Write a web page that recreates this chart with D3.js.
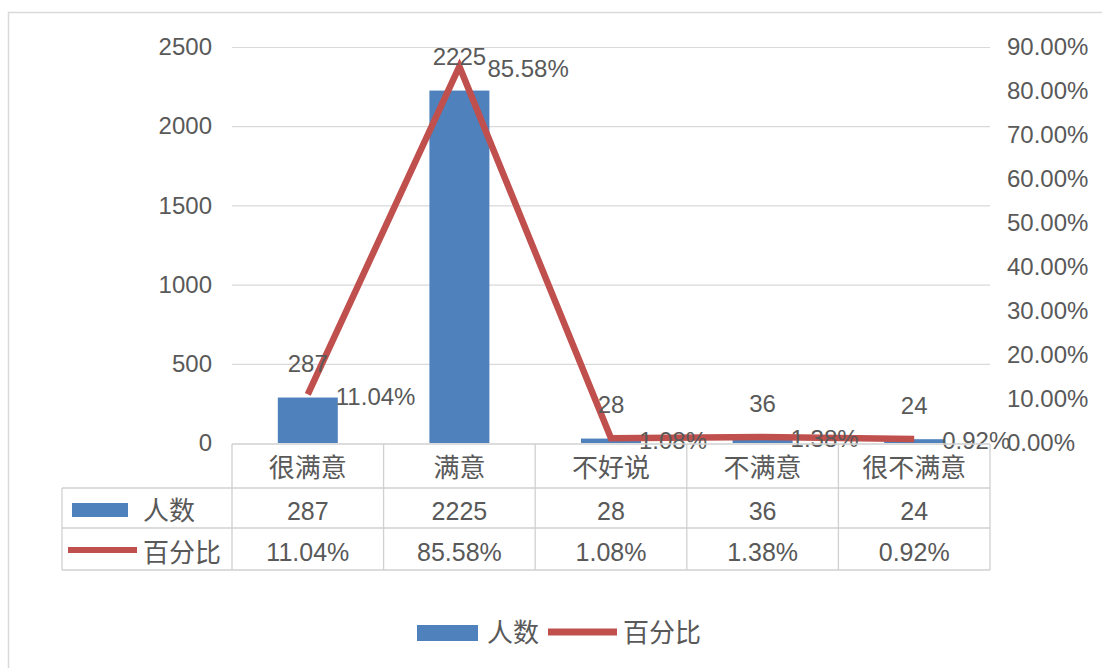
<!DOCTYPE html>
<html><head><meta charset="utf-8">
<script src="https://cdn.jsdelivr.net/npm/d3@7/dist/d3.min.js"></script>
<style>
body{margin:0;background:#fff}
text{font-family:"Liberation Sans","Noto Sans CJK SC",sans-serif;fill:#595959}
</style>
</head><body>
<svg id="c" width="1102" height="668"></svg>
<script>
// ---- data ----
const categories = ["很满意", "满意", "不好说", "不满意", "很不满意"];
const counts = [287, 2225, 28, 36, 24];
const percents = [0.1104, 0.8558, 0.0108, 0.0138, 0.0092];
const leftTicks = [0, 500, 1000, 1500, 2000, 2500];
const rightTicks = [0, 0.1, 0.2, 0.3, 0.4, 0.5, 0.6, 0.7, 0.8, 0.9];
const seriesNames = ["人数", "百分比"];

// ---- style ----
const BLUE = "#4f81bd", RED = "#c0504d", GRID = "#d9d9d9", TBL = "#d0d0d0";
const svg = d3.select("#c");
const L = 232, R = 990, T = 47, B = 443;
const rowLines = [444, 488, 528, 570];
const fmtPct = d3.format(".2%");
const fmtInt = d3.format("d");

// outer frame
svg.append("rect").attr("x", 8.5).attr("y", 12.5).attr("width", 1300).attr("height", 900)
  .attr("fill", "#fff").attr("stroke", GRID).attr("stroke-width", 1.5);

const x = d3.scaleBand().domain(categories).range([L, R]).padding(0);
const y = d3.scaleLinear().domain([0, 2500]).range([B, T]);
const y2 = d3.scaleLinear().domain([0, 0.9]).range([B, T]);
const bw = x.bandwidth();
const barW = 60;

// gridlines
svg.append("g").attr("transform", `translate(${L},0)`)
  .call(d3.axisLeft(y).tickValues(leftTicks.filter(d => d > 0)).tickSize(-(R - L)).tickFormat(""))
  .call(g => g.select(".domain").remove())
  .call(g => g.selectAll("line").attr("stroke", GRID).attr("stroke-width", 1.2));

// left axis labels
svg.append("g").attr("transform", `translate(${L},0)`)
  .call(d3.axisLeft(y).tickValues(leftTicks).tickSize(0).tickPadding(20).tickFormat(fmtInt))
  .call(g => g.select(".domain").remove())
  .call(g => g.selectAll("text").style("font-size", "24px").attr("fill", "#595959")
     .attr("font-family", null));

// right axis labels
svg.append("g").attr("transform", `translate(${R},0)`)
  .call(d3.axisRight(y2).tickValues(rightTicks).tickSize(0).tickPadding(17).tickFormat(fmtPct))
  .call(g => g.select(".domain").remove())
  .call(g => g.selectAll("text").style("font-size", "24px").attr("fill", "#595959")
     .attr("font-family", null));

// bars
svg.append("g").selectAll("rect").data(categories).join("rect")
  .attr("x", d => x(d) + bw / 2 - barW / 2)
  .attr("width", barW)
  .attr("y", (d, i) => y(counts[i]))
  .attr("height", (d, i) => y(0) - y(counts[i]))
  .attr("fill", BLUE);

// line
const line = d3.line().x((d, i) => x(categories[i]) + bw / 2).y(d => y2(d));
svg.append("path").datum(percents).attr("d", line)
  .attr("fill", "none").attr("stroke", RED).attr("stroke-width", 6.5)
  .attr("stroke-linejoin", "miter").attr("stroke-linecap", "butt");

// bar value labels
svg.append("g").selectAll("text").data(categories).join("text")
  .attr("x", d => x(d) + bw / 2)
  .attr("y", (d, i) => y(counts[i]) - 34)
  .attr("dy", "0.35em").attr("text-anchor", "middle")
  .style("font-size", "24px")
  .text((d, i) => counts[i]);

// line value labels
svg.append("g").selectAll("text").data(categories).join("text")
  .attr("x", d => x(d) + bw / 2 + 28)
  .attr("y", (d, i) => y2(percents[i]) + 2)
  .attr("dy", "0.35em").attr("text-anchor", "start")
  .style("font-size", "24px")
  .text((d, i) => fmtPct(percents[i]));

// ---- data table ----
const tg = svg.append("g").attr("stroke", TBL).attr("stroke-width", 1.3);
tg.append("line").attr("x1", L).attr("x2", R).attr("y1", rowLines[0]).attr("y2", rowLines[0]);
[1, 2, 3].forEach(k => tg.append("line").attr("x1", 62).attr("x2", R)
  .attr("y1", rowLines[k]).attr("y2", rowLines[k]));
d3.range(categories.length + 1).forEach(i => {
  const xx = L + i * bw;
  tg.append("line").attr("x1", xx).attr("x2", xx).attr("y1", rowLines[0]).attr("y2", rowLines[3]);
});
tg.append("line").attr("x1", 62).attr("x2", 62).attr("y1", rowLines[1]).attr("y2", rowLines[3]);

const rowMid = k => (rowLines[k] + rowLines[k + 1]) / 2 + 1;

// header
svg.append("g").selectAll("text").data(categories).join("text")
  .attr("x", d => x(d) + bw / 2).attr("y", rowMid(0) + 1).attr("dy", "0.35em")
  .attr("text-anchor", "middle").style("font-size", "26px").text(d => d);
// rows
svg.append("g").selectAll("text").data(categories).join("text")
  .attr("x", d => x(d) + bw / 2).attr("y", rowMid(1) + 2).attr("dy", "0.35em")
  .attr("text-anchor", "middle").style("font-size", "25px").text((d, i) => counts[i]);
svg.append("g").selectAll("text").data(categories).join("text")
  .attr("x", d => x(d) + bw / 2).attr("y", rowMid(2) + 2).attr("dy", "0.35em")
  .attr("text-anchor", "middle").style("font-size", "25px").text((d, i) => fmtPct(percents[i]));

// table legend keys
svg.append("rect").attr("x", 72).attr("y", 503).attr("width", 56).attr("height", 14).attr("fill", BLUE);
svg.append("line").attr("x1", 68).attr("x2", 137).attr("y1", 550).attr("y2", 550)
  .attr("stroke", RED).attr("stroke-width", 6);
svg.append("text").attr("x", 143).attr("y", rowMid(1) + 2).attr("dy", "0.35em")
  .style("font-size", "26px").text(seriesNames[0]);
svg.append("text").attr("x", 143).attr("y", rowMid(2) + 3).attr("dy", "0.35em")
  .style("font-size", "26px").text(seriesNames[1]);

// bottom legend
svg.append("rect").attr("x", 417).attr("y", 625).attr("width", 61).attr("height", 16).attr("fill", BLUE);
svg.append("text").attr("x", 487).attr("y", 633).attr("dy", "0.35em")
  .style("font-size", "26px").text(seriesNames[0]);
svg.append("line").attr("x1", 548).attr("x2", 617).attr("y1", 632).attr("y2", 632)
  .attr("stroke", RED).attr("stroke-width", 7);
svg.append("text").attr("x", 623).attr("y", 633).attr("dy", "0.35em")
  .style("font-size", "26px").text(seriesNames[1]);
</script>
</body></html>
